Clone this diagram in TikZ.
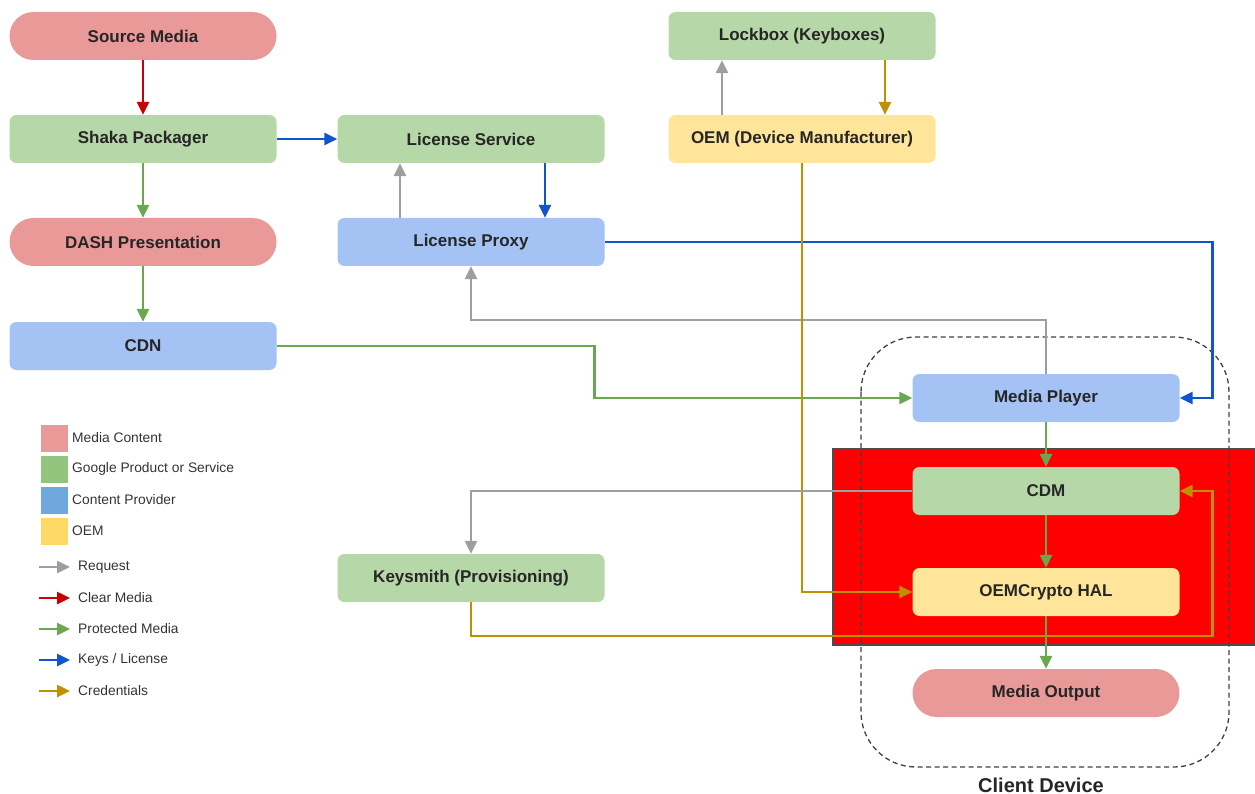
\documentclass[tikz,border=0pt]{standalone}
\usepackage{fontspec}
\setmainfont{Liberation Sans}
\usetikzlibrary{arrows.meta, positioning}
\definecolor{mediapink}{HTML}{EA9999}
\definecolor{googlegreen}{HTML}{B6D7A8}
\definecolor{providerblue}{HTML}{A4C2F4}
\definecolor{oemyellow}{HTML}{FFE599}
\definecolor{legpink}{HTML}{EA9999}
\definecolor{leggreen}{HTML}{93C47D}
\definecolor{legblue}{HTML}{6FA8DC}
\definecolor{legyellow}{HTML}{FFD966}
\definecolor{reqgray}{HTML}{9E9E9E}
\definecolor{clearred}{HTML}{CC0000}
\definecolor{protgreen}{HTML}{6AA84F}
\definecolor{keyblue}{HTML}{1155CC}
\definecolor{credgold}{HTML}{BF9000}
\definecolor{teered}{HTML}{FF0000}

\tikzset{
  box/.style={rectangle, rounded corners=7pt, minimum width=267pt, minimum height=48pt,
    inner sep=0pt, font=\fontsize{17}{19}\selectfont\bfseries, text=black!85},
  mediabox/.style={box, fill=mediapink, rounded corners=24pt},
  googlebox/.style={box, fill=googlegreen},
  providerbox/.style={box, fill=providerblue},
  oembox/.style={box, fill=oemyellow},
  flow/.style={line width=2.5pt, -{Triangle[length=13pt,width=12pt]}},
  reqline/.style={flow, draw=reqgray},
  clearline/.style={flow, draw=clearred},
  protline/.style={flow, draw=protgreen},
  keyline/.style={flow, draw=keyblue},
  credline/.style={flow, draw=credgold},
  swatch/.style={rectangle, minimum size=27pt, inner sep=0pt},
  legtext/.style={anchor=west, inner sep=0pt, font=\fontsize{13.8}{15}\selectfont, text=black!80}
}

\begin{document}
\begin{tikzpicture}[x=1pt, y=-1pt]
  \useasboundingbox (0,0) rectangle (1255,794);

  % trusted execution area and client device outline
  \draw[fill=teered, draw=black!70, line width=1.2pt] (833,449) rectangle (1255,645);
  \draw[draw=black!75, line width=1.3pt, dash pattern=on 5pt off 3.5pt, rounded corners=55pt]
    (861,337) rectangle (1229,767);
  \node[font=\fontsize{20}{22}\selectfont\bfseries, text=black!85] (clientlbl) at (1041,785) {Client Device};

  % content side
  \node[mediabox] (source) at (143,36) {Source Media};
  \node[googlebox] (shaka) at (143,139) {Shaka Packager};
  \node[mediabox] (dash) at (143,242) {DASH Presentation};
  \node[providerbox] (cdn) at (143,346) {CDN};

  % license side
  \node[googlebox] (licsvc) at (471,139) {License Service};
  \node[providerbox] (licproxy) at (471,242) {License Proxy};
  \node[googlebox] (keysmith) at (471,578) {Keysmith (Provisioning)};

  % oem side
  \node[googlebox] (lockbox) at (802,36) {Lockbox (Keyboxes)};
  \node[oembox] (oem) at (802,139) {OEM (Device Manufacturer)};

  % client device
  \node[providerbox] (player) at (1046,398) {Media Player};
  \node[googlebox] (cdm) at (1046,491) {CDM};
  \node[oembox] (hal) at (1046,592) {OEMCrypto HAL};
  \node[mediabox] (output) at (1046,693) {Media Output};

  % connectors
  \draw[clearline] (source) -- (shaka);
  \draw[protline] (shaka) -- (dash);
  \draw[protline] (dash) -- (cdn);
  \draw[keyline] (shaka) -- (licsvc);
  \draw[reqline] ([xshift=-71pt]licproxy.north) -- ([xshift=-71pt]licsvc.south);
  \draw[keyline] ([xshift=74pt]licsvc.south) -- ([xshift=74pt]licproxy.north);
  \draw[keyline] (licproxy.east) -- ++(608,0) |- (player.east);
  \draw[reqline] (player.north) -- ++(0,-54) -| (licproxy.south);
  \draw[protline] (cdn.east) -- ++(318,0) |- (player.west);
  \draw[reqline] ([xshift=-80pt]oem.north) -- ([xshift=-80pt]lockbox.south);
  \draw[credline] ([xshift=83pt]lockbox.south) -- ([xshift=83pt]oem.north);
  \draw[credline] (oem.south) |- (hal.west);
  \draw[reqline] (cdm.west) -| (keysmith.north);
  \draw[credline] (keysmith.south) -- ++(0,34) -| ([xshift=33pt]cdm.east) -- (cdm.east);
  \draw[protline] (player) -- (cdm);
  \draw[protline] (cdm) -- (hal);
  \draw[protline] (hal) -- (output);

  % legend
  \foreach \y/\c/\t in {438/legpink/Media Content, 469/leggreen/Google Product or Service,
      500/legblue/Content Provider, 531/legyellow/OEM} {
    \node[swatch, fill=\c] at (54,\y) {};
    \node[legtext] at (72,\y) {\t};
  }
  \foreach \y/\c/\t in {567/reqgray/Request, 598/clearred/Clear Media, 629/protgreen/Protected Media,
      660/keyblue/{Keys / License}, 691/credgold/Credentials} {
    \draw[flow, draw=\c] (39,\y) -- (70,\y);
    \node[legtext] at (78,\y) {\t};
  }
\end{tikzpicture}
\end{document}
